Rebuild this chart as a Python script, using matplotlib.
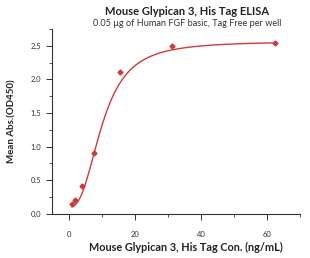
import numpy as np
import matplotlib

matplotlib.use('Agg')
import matplotlib.pyplot as plt
from matplotlib.ticker import MultipleLocator

# Концентрации и средние значения поглощения
conc = [0.98, 1.95, 3.9, 7.8, 15.625, 31.25, 62.5]
od450 = [0.15, 0.21, 0.41, 0.90, 2.115, 2.50, 2.54]

# Параметры 4PL-аппроксимации (оценка по рисунку)
fit_bottom = 0.10
fit_top = 2.565
fit_ec50 = 10.2
fit_hill = 2.6

plt.rcParams['font.family'] = ['Lato', 'DejaVu Sans']

fig = plt.figure(figsize=(3.1, 2.58), dpi=100)
ax = fig.add_axes([0.168, 0.171, 0.80, 0.717])

red = '#d0393b'
xs = np.linspace(min(conc), max(conc), 300)
ys = fit_top + (fit_bottom - fit_top) / (1 + (xs / fit_ec50) ** fit_hill)
ax.plot(xs, ys, color=red, lw=1.0)
ax.plot(conc, od450, 'D', color=red, ms=2.5, mec=red)

ax.set_xlim(-5, 70)
ax.set_ylim(0, 2.75)
ax.xaxis.set_major_locator(MultipleLocator(20))
ax.xaxis.set_minor_locator(MultipleLocator(10))
ax.yaxis.set_major_locator(MultipleLocator(0.5))
ax.yaxis.set_minor_locator(MultipleLocator(0.25))
ax.yaxis.set_major_formatter(matplotlib.ticker.FormatStrFormatter('%.1f'))

for side in ['top', 'right']:
    ax.spines[side].set_visible(False)
for side in ['left', 'bottom']:
    ax.spines[side].set_color('#333333')
    ax.spines[side].set_linewidth(0.8)
ax.tick_params(which='major', length=4, width=0.7, labelsize=5.5, colors='#333333', pad=4)
ax.tick_params(which='minor', length=2, width=0.6, colors='#333333')
ax.tick_params(axis='x', pad=8)

fig.text(0.605, 0.955, 'Mouse Glypican 3, His Tag ELISA', ha='center', va='center',
         fontsize=8, fontweight='bold', color='#222222')
fig.text(0.605, 0.91, '0.05 \u03bcg of Human FGF basic, Tag Free per well', ha='center',
         va='center', fontsize=6.6, color='#333333')

fig.text(0.6, 0.042, 'Mouse Glypican 3, His Tag Con. (ng/mL)', ha='center', va='center',
         fontsize=7.8, fontweight='bold', color='#222222')
ax.set_ylabel('Mean Abs.(OD450)', fontsize=7, fontweight='bold', color='#222222', labelpad=10)

plt.savefig('out.png', dpi=100)
plt.close()
